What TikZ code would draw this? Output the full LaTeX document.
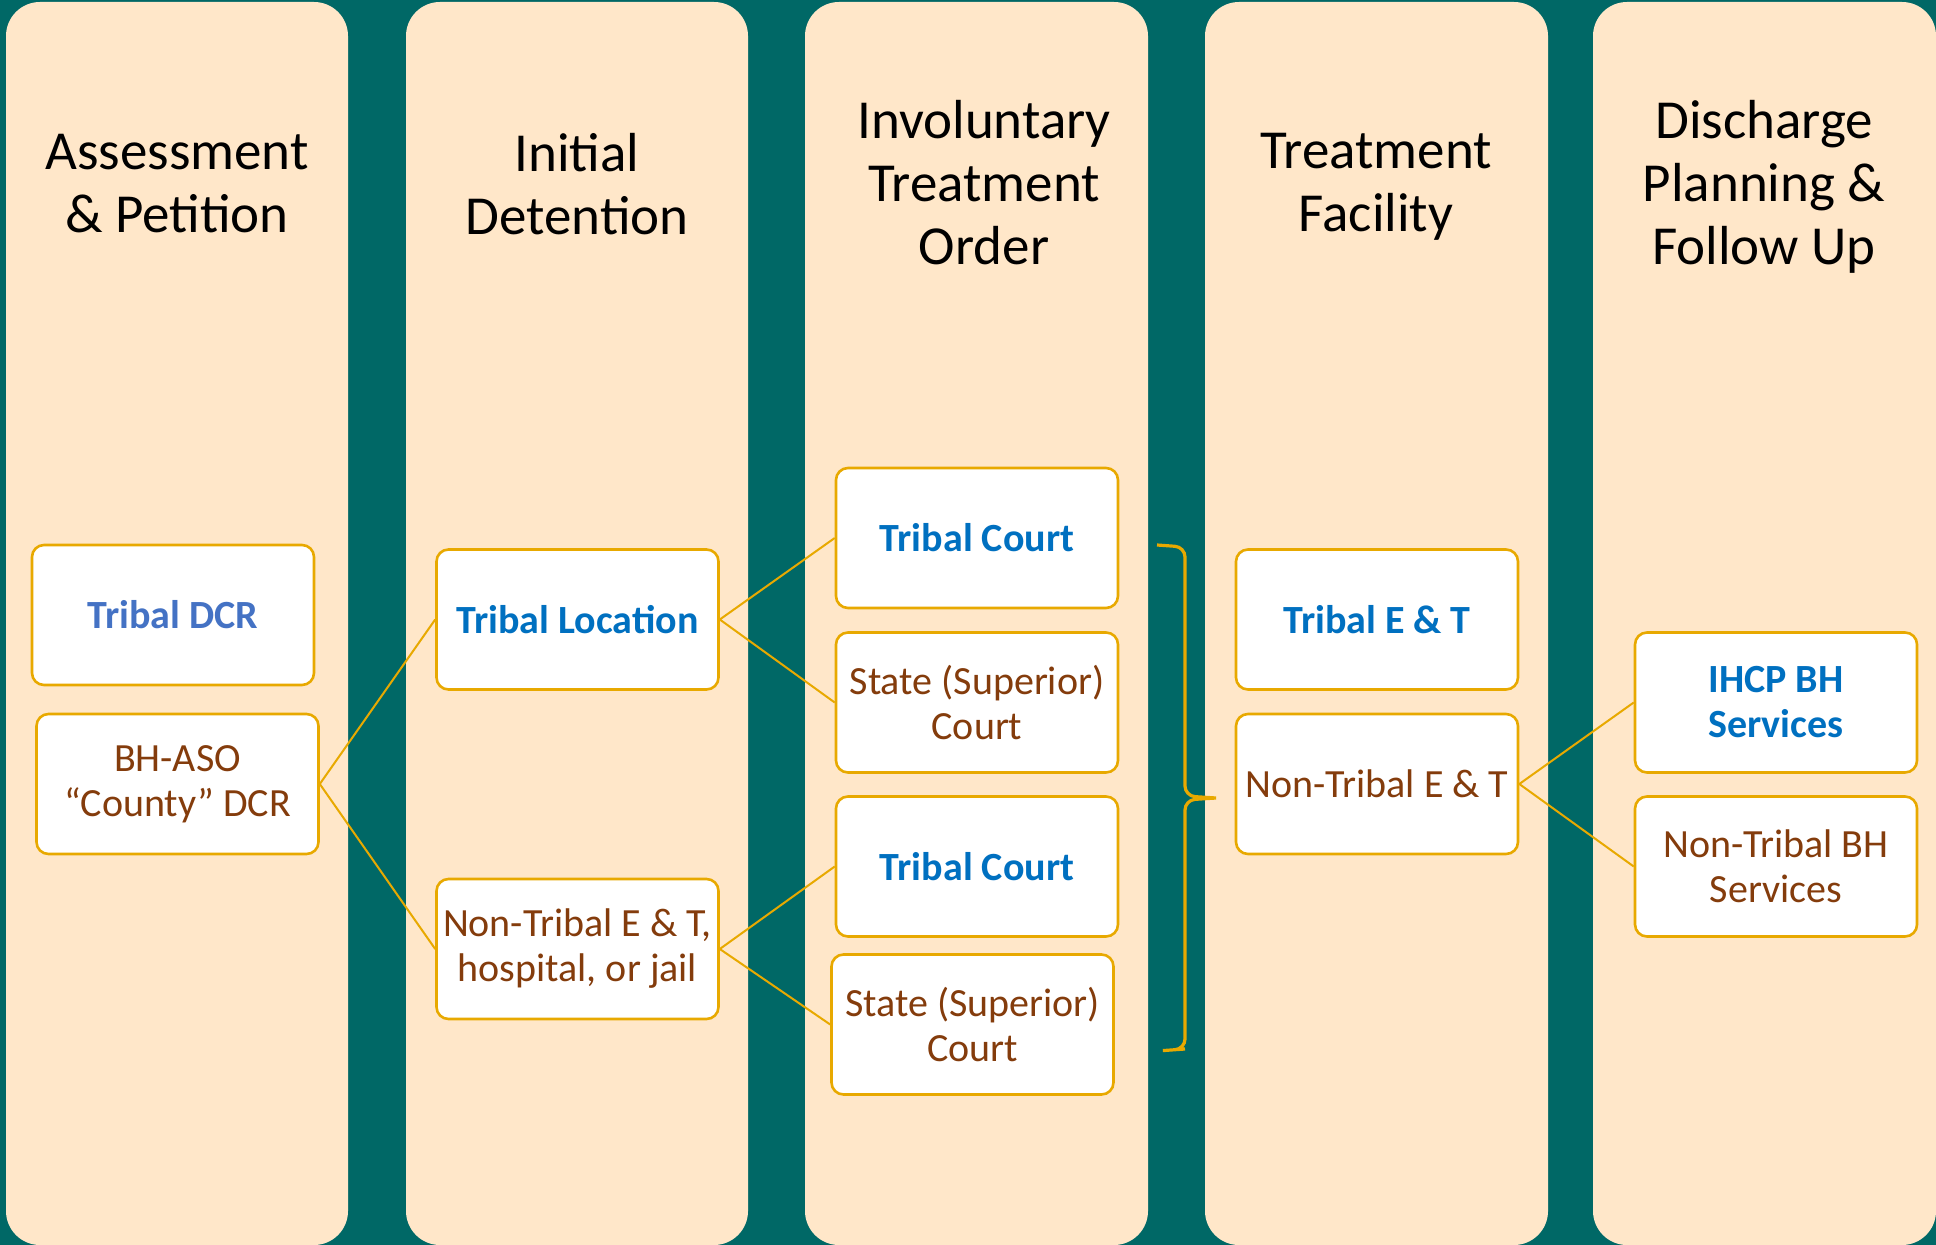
\documentclass[tikz,border=0pt]{standalone}
\usepackage{fontspec}
\setmainfont{Carlito}
\definecolor{teal}{HTML}{006866}
\definecolor{peach}{HTML}{FFE7C9}
\definecolor{gold}{HTML}{E8A900}
\definecolor{blueA}{HTML}{0070C0}
\definecolor{blueB}{HTML}{4472C4}
\definecolor{brown}{HTML}{843C0C}
\begin{document}
\begin{tikzpicture}[x=0.5pt,y=-0.5pt,
  column/.style={fill=peach, rounded corners=17pt},
  heading/.style={align=center, font=\fontsize{27.5}{31.5}\selectfont, text=black},
  box/.style={draw=gold, line width=1.3pt, fill=white, rounded corners=6pt,
     minimum width=141pt, minimum height=70pt, align=center, inner sep=2pt,
     font=\fontsize{20}{22.5}\selectfont},
  tribal/.style={box, text=blueA, font=\fontsize{20}{22.5}\selectfont\bfseries},
  nontribal/.style={box, text=brown},
  link/.style={draw=gold, line width=1pt}]
\fill[teal] (0,0) rectangle (1936,1245);
\useasboundingbox (0,0) rectangle (1936,1245);
% columns
\fill[column] (6,2) rectangle (348,1245);
\fill[column] (406,2) rectangle (748,1245);
\fill[column] (805,2) rectangle (1148,1245);
\fill[column] (1205,2) rectangle (1548,1245);
\fill[column] (1593,2) rectangle (1936,1245);
% headings
\node[heading] (h1) at (177,188) {Assessment\\\& Petition\vphantom{y}};
\node[heading] (h2) at (577,188) {Initial\\Detention\vphantom{y}};
\node[heading] (h3) at (984,187) {Involuntary\\Treatment\\Order\vphantom{y}};
\node[heading] (h4) at (1376,187) {Treatment\\Facility\vphantom{y}};
\node[heading] (h5) at (1764,187) {Discharge\\Planning \&\\Follow Up\vphantom{y}};
% boxes
\node[tribal, text=blueB] (tdcr) at (173,615) {Tribal DCR};
\node[nontribal] (cdcr) at (177.5,784) {BH-ASO\\“County” DCR};
\node[tribal] (tloc) at (577.5,619.5) {Tribal Location};
\node[nontribal] (ntloc) at (577.5,949) {Non-Tribal E \& T,\\hospital, or jail};
\node[tribal] (tc1) at (977,538) {Tribal Court};
\node[nontribal] (sc1) at (977,702.5) {State (Superior)\\Court};
\node[tribal] (tc2) at (977,866.5) {Tribal Court};
\node[nontribal] (sc2) at (972.5,1024.5) {State (Superior)\\Court};
\node[tribal] (tet) at (1377,619.5) {Tribal E \& T};
\node[nontribal] (ntet) at (1377,784) {Non-Tribal E \& T};
\node[tribal] (ihcp) at (1776,702.5) {IHCP BH\\Services};
\node[nontribal] (ntbh) at (1776,866.5) {Non-Tribal BH\\Services};
% connectors
\draw[link] (cdcr.east) -- (tloc.west);
\draw[link] (cdcr.east) -- (ntloc.west);
\draw[link] (tloc.east) -- (tc1.west);
\draw[link] (tloc.east) -- (sc1.west);
\draw[link] (ntloc.east) -- (tc2.west);
\draw[link] (ntloc.east) -- (sc2.west);
\draw[link] (ntet.east) -- (ihcp.west);
\draw[link] (ntet.east) -- (ntbh.west);
% brace
\coordinate (btip) at (1216,798);
\draw[draw=gold, line width=1.6pt, rounded corners=5pt]
  (1157,545) -- (1185,547) -- (1185,796) -- (btip)
  (1185,1049) -- (1157,1051) -- (1185,1049) -- (1185,800) -- (btip);
\end{tikzpicture}
\end{document}
